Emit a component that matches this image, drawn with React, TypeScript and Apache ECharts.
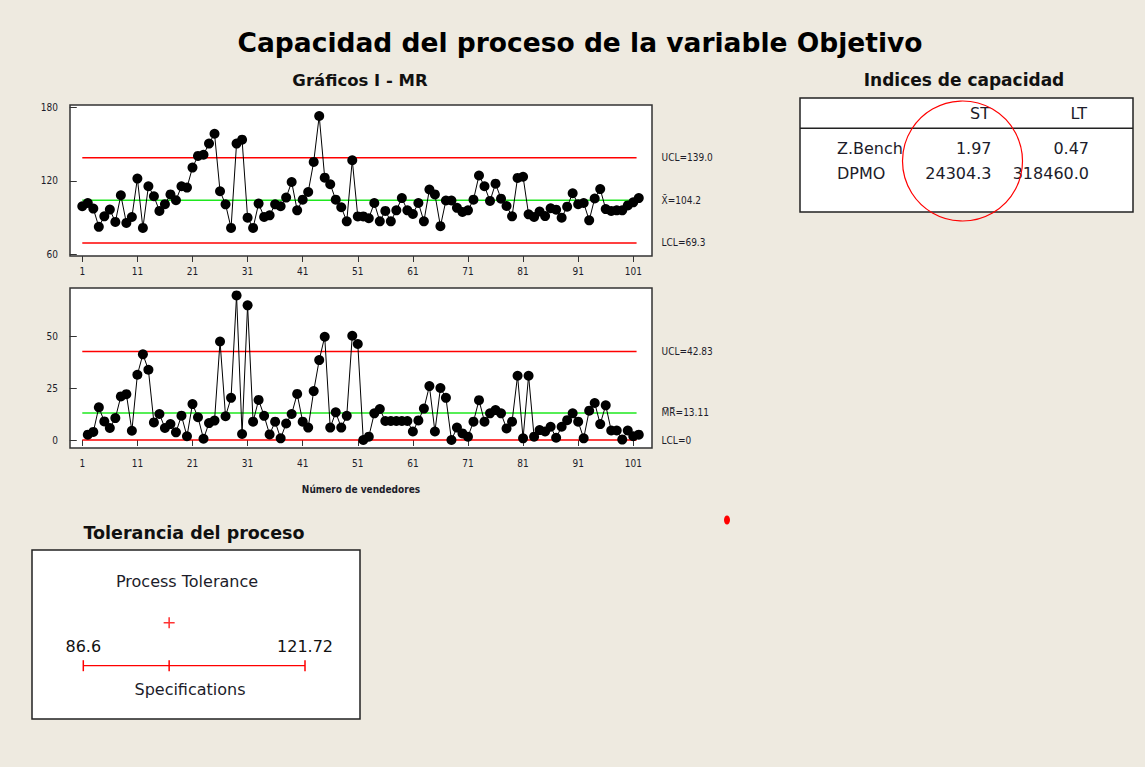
import React, { useEffect, useRef } from "react";
import * as echarts from "echarts";

// ---------- data ----------
const individualValues = [
  99.3, 102, 97.4, 82.5, 91.1, 96.6, 86.5, 108.3, 85.7, 90.5,
  122, 81.6, 115.7, 107.5, 95.5, 101, 109, 104.2, 115.7, 114.6,
  131, 140.5, 141.5, 150.6, 158.7, 111.6, 100.9, 81.6, 150.6, 153.8,
  90, 81.6, 101.5, 90.6, 91.9, 100.9, 99.3, 106.4, 119.2, 96,
  104.7, 111, 135.6, 173.2, 122.7, 117.3, 104.7, 98.5, 87, 137,
  91, 91, 89.5, 102, 87, 95.5, 87, 96, 106, 96,
  93, 102, 87, 113, 109, 83, 104, 104, 98, 94.7,
  96, 104.7, 124.5, 115.7, 103.7, 117.8, 105.5, 99.5, 91.1, 122.5,
  123.5, 92.7, 90.6, 95, 91.3, 97.7, 96.5, 90, 99, 110,
  101, 102, 87.8, 105.7, 113.4, 97, 95.5, 96, 96, 100,
  102.5, 106,
];

// moving ranges for observations 2..102
const movingRanges = [
  2.6, 3.9, 15.8, 9, 5.8, 10.6, 21.1, 22.2, 4.5,
  31.6, 41.5, 34, 8.5, 12.6, 5.8, 7.7, 3.7, 11.8, 1.8,
  17.4, 11, 0.6, 8.2, 9.4, 47.7, 11.5, 20.4, 70, 2.9,
  65.2, 8.9, 19.4, 11.7, 2.7, 8.9, 0.8, 8, 12.6, 22.3,
  8.9, 6, 23.7, 38.7, 50, 6, 13.4, 6, 11.7, 50.5,
  46.5, 0, 1.6, 12.9, 15, 9.2, 9.2, 9.2, 9.2, 9.2,
  4.1, 9.5, 15.2, 26.1, 4.1, 25.2, 20.4, 0, 6, 3.2,
  1.6, 8.9, 19.3, 8.9, 12.9, 14.5, 12.9, 5.6, 8.9, 31.1,
  0.8, 31.1, 1.6, 4.8, 4.1, 6.4, 1.1, 6.4, 9.6, 12.9,
  8.9, 0.8, 14.2, 17.9, 7.7, 16.8, 4.6, 4.6, 0.2, 4.6,
  1.8, 2.6,
];

const iUCL = 139.0;
const iCL = 104.2;
const iLCL = 69.3;
const mrUCL = 42.83;
const mrCL = 13.11;
const mrLCL = 0;

const xTickValues = [1, 11, 21, 31, 41, 51, 61, 71, 81, 91, 101];
const iTickValues = [60, 120, 180];
const mrTickValues = [0, 25, 50];

const capacityColumns = ["ST", "LT"];
const capacityRows = ["Z.Bench", "DPMO"];
const stValues = ["1.97", "24304.3"];
const ltValues = ["0.47", "318460.0"];

const specLimits = [86.6, 121.72];
const specMid = 100.2;

// ---------- styling ----------
const SMALL_FONT = "'DejaVu Sans Condensed', 'DejaVu Sans', sans-serif";
const FONT = "'DejaVu Sans', sans-serif";
const RED = "#ff0000";
const GREEN = "#1ee81e";
const TXT = "#1c1c2a";
const BG = "#EEEAE0";

export default function App() {
  const ref = useRef<HTMLDivElement>(null);

  useEffect(() => {
    if (!ref.current) return;
    const chart = echarts.init(ref.current, null, { renderer: "svg" });
    const n = individualValues.length;
    const lineEnd = n - 0.4;

    const limitLine = (xi: number, y: number, color: string, text: string) => ({
      type: "line",
      xAxisIndex: xi,
      yAxisIndex: xi,
      data: [
        [1, y],
        [lineEnd, y],
      ],
      symbol: "none",
      silent: true,
      z: 2,
      lineStyle: { color, width: 1.5 },
      endLabel: {
        show: true,
        formatter: text,
        distance: 25,
        fontSize: 10,
        fontFamily: SMALL_FONT,
        color: TXT,
      },
    });

    const valueXAxis = (gi: number, extra: any = {}) => ({
      type: "value",
      gridIndex: gi,
      min: -1.23,
      max: 104.4,
      axisLine: { show: false },
      splitLine: { show: false },
      axisTick: {
        show: true,
        customValues: xTickValues,
        length: 6,
        lineStyle: { color: "#333", width: 1 },
      },
      axisLabel: {
        customValues: xTickValues,
        fontSize: 10,
        margin: 10,
        color: TXT,
        fontFamily: SMALL_FONT,
      },
      ...extra,
    });

    const valueYAxis = (gi: number, min: number, max: number, ticks: number[]) => ({
      type: "value",
      gridIndex: gi,
      min,
      max,
      axisLine: { show: false },
      splitLine: { show: false },
      axisTick: {
        show: true,
        customValues: ticks,
        length: 7,
        lineStyle: { color: "#333", width: 1 },
      },
      axisLabel: {
        customValues: ticks,
        fontSize: 10,
        margin: 12,
        color: TXT,
        fontFamily: SMALL_FONT,
      },
    });

    const plusPath = "path://M4.3,0H5.7V4.3H10V5.7H5.7V10H4.3V5.7H0V4.3H4.3Z";

    const centeredText = (
      text: string,
      x: number,
      y: number,
      font: string,
      align = "center",
      fill = "#111"
    ) => ({
      type: "text",
      x,
      y,
      style: { text, font, fill, align, verticalAlign: "middle" },
    });

    const option: any = {
      animation: false,
      backgroundColor: BG,
      textStyle: { fontFamily: FONT },
      grid: [
        {
          left: 70,
          top: 105,
          width: 582,
          height: 151,
          show: true,
          backgroundColor: "#ffffff",
          borderColor: "#333",
          borderWidth: 1.5,
        },
        {
          left: 70,
          top: 288,
          width: 582,
          height: 160,
          show: true,
          backgroundColor: "#ffffff",
          borderColor: "#333",
          borderWidth: 1.5,
        },
        { left: 83.3, top: 622.7, width: 221.7, height: 43, show: false },
      ],
      xAxis: [
        valueXAxis(0),
        valueXAxis(1, {
          name: "Número de vendedores",
          nameLocation: "middle",
          nameGap: 36,
          nameTextStyle: {
            fontSize: 10,
            fontWeight: "bold",
            color: TXT,
            fontFamily: SMALL_FONT,
          },
        }),
        {
          type: "value",
          gridIndex: 2,
          min: specLimits[0],
          max: specLimits[1],
          show: false,
        },
      ],
      yAxis: [
        valueYAxis(0, 58.6, 182.2, iTickValues),
        valueYAxis(1, -3.87, 73.6, mrTickValues),
        { type: "value", gridIndex: 2, min: 0, max: 1, show: false },
      ],
      series: [
        limitLine(0, iUCL, RED, `UCL=${iUCL.toFixed(1)}`),
        limitLine(0, iCL, GREEN, `X\u0304=${iCL.toFixed(1)}`),
        limitLine(0, iLCL, RED, `LCL=${iLCL.toFixed(1)}`),
        {
          type: "line",
          xAxisIndex: 0,
          yAxisIndex: 0,
          data: individualValues.map((v, k) => [k + 1, v]),
          symbol: "circle",
          symbolSize: 10,
          showAllSymbol: true,
          itemStyle: { color: "#000" },
          lineStyle: { color: "#000", width: 1 },
          z: 3,
        },
        limitLine(1, mrUCL, RED, `UCL=${mrUCL.toFixed(2)}`),
        limitLine(1, mrCL, GREEN, `M\u0305R\u0305=${mrCL.toFixed(2)}`),
        limitLine(1, mrLCL, RED, `LCL=${mrLCL}`),
        {
          type: "line",
          xAxisIndex: 1,
          yAxisIndex: 1,
          data: movingRanges.map((v, k) => [k + 2, v]),
          symbol: "circle",
          symbolSize: 10,
          showAllSymbol: true,
          itemStyle: { color: "#000" },
          lineStyle: { color: "#000", width: 1 },
          z: 3,
        },
        {
          type: "line",
          xAxisIndex: 2,
          yAxisIndex: 2,
          data: [
            [specLimits[0], 0],
            [specMid, 0],
            [specLimits[1], 0],
          ],
          symbol: "rect",
          symbolSize: [1.5, 11],
          itemStyle: { color: RED },
          lineStyle: { color: RED, width: 1.5 },
          label: {
            show: true,
            position: "top",
            distance: 6,
            fontSize: 16,
            fontFamily: FONT,
            color: "#111",
            formatter: (p: any) => (p.dataIndex === 1 ? "" : String(p.value[0])),
          },
        },
        {
          type: "scatter",
          xAxisIndex: 2,
          yAxisIndex: 2,
          data: [[specMid, 1]],
          symbol: plusPath,
          symbolSize: 11,
          itemStyle: { color: RED },
        },
      ],
      graphic: [
        centeredText(
          "Capacidad del proceso de la variable Objetivo",
          580,
          42,
          `bold 26.5px ${FONT}`,
          "center",
          "#000"
        ),
        centeredText("Gráficos I - MR", 360, 80, `bold 16.5px ${FONT}`),
        centeredText("Indices de capacidad", 964, 80, `bold 17px ${FONT}`),
        {
          type: "rect",
          shape: { x: 800, y: 98, width: 333, height: 114 },
          style: { fill: "#fff", stroke: "#222", lineWidth: 1.5 },
        },
        {
          type: "line",
          shape: { x1: 800, y1: 128.3, x2: 1133, y2: 128.3 },
          style: { stroke: "#222", lineWidth: 1.5 },
        },
        ...capacityColumns.map((c, k) =>
          centeredText(c, k === 0 ? 990 : 1087, 113.5, `16px ${FONT}`, "right", TXT)
        ),
        ...capacityRows.flatMap((r, k) => [
          centeredText(r, 837, 148.3 + k * 25, `16px ${FONT}`, "left", TXT),
          centeredText(stValues[k], 991.5, 148.3 + k * 25, `16px ${FONT}`, "right", TXT),
          centeredText(ltValues[k], 1089, 148.3 + k * 25, `16px ${FONT}`, "right", TXT),
        ]),
        {
          type: "circle",
          shape: { cx: 962.5, cy: 161, r: 60 },
          style: { fill: "none", stroke: RED, lineWidth: 1.2 },
          z: 10,
        },
        {
          type: "ellipse",
          shape: { cx: 727, cy: 520, rx: 3, ry: 4.5 },
          style: { fill: RED },
        },
        centeredText("Tolerancia del proceso", 194, 533, `bold 17.5px ${FONT}`),
        {
          type: "rect",
          shape: { x: 32, y: 550, width: 328, height: 169 },
          style: { fill: "#fff", stroke: "#222", lineWidth: 1.5 },
          z: -1,
        },
        centeredText("Process Tolerance", 187, 581.5, `16px ${FONT}`, "center", TXT),
        centeredText("Specifications", 190, 689, `16px ${FONT}`, "center", TXT),
      ],
    };

    chart.setOption(option);
    return () => chart.dispose();
  }, []);

  return (
    <div
      style={{
        position: "fixed",
        left: 0,
        top: 0,
        width: 1145,
        height: 767,
        background: BG,
      }}
    >
      <div ref={ref} style={{ width: 1145, height: 767 }} />
    </div>
  );
}
